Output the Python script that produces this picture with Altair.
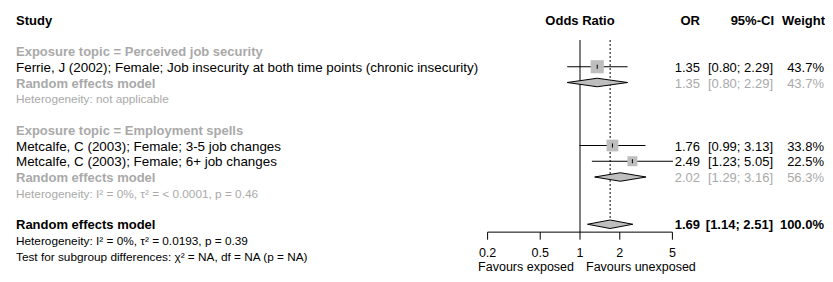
import altair as alt
import pandas as pd

# ---------------- data ----------------
study_labels = [
    "Ferrie, J (2002); Female; Job insecurity at both time points (chronic insecurity)",
    "Metcalfe, C (2003); Female; 3-5 job changes",
    "Metcalfe, C (2003); Female; 6+ job changes",
]
study_or = [1.35, 1.76, 2.49]
study_lo = [0.80, 0.99, 1.23]
study_hi = [2.29, 3.13, 5.05]
study_weight = [43.7, 33.8, 22.5]
study_row = [3, 8, 9]

subgroup_labels = ["Exposure topic = Perceived job security", "Exposure topic = Employment spells"]
subgroup_or = [1.35, 2.02]
subgroup_lo = [0.80, 1.29]
subgroup_hi = [2.29, 3.16]
subgroup_weight = [43.7, 56.3]
subgroup_het = ["Heterogeneity: not applicable",
                "Heterogeneity: I² = 0%, τ² = < 0.0001, p = 0.46"]
subgroup_head_row = [2, 7]
subgroup_model_row = [4, 10]
subgroup_het_row = [5, 11]

overall_or = [1.69]
overall_lo = [1.14]
overall_hi = [2.51]
overall_weight = [100.0]
overall_row = [13]
overall_het = "Heterogeneity: I² = 0%, τ² = 0.0193, p = 0.39"
subgroup_test = "Test for subgroup differences: χ² = NA, df = NA (p = NA)"

axis_ticks = [0.2, 0.5, 1, 2, 5]
axis_tick_labels = ["0.2", "0.5", "1", "2", "5"]
favours_left = "Favours exposed"
favours_right = "Favours unexposed"

# ---------------- styling ----------------
FONT = "Liberation Sans"
GRAY = "#a9a9a9"
FILL = "#bebebe"
FS = 13
FS_REG = 13.4
FS_SMALL = 11.8
FS_AX = 12.5
DY = 1

xs = alt.Scale(type="log", domain=[0.2, 5], range=[479.6, 664.4], nice=False, zero=False)
ys = alt.Scale(domain=[0, 16], range=[11.5, 263.5], nice=False, zero=False)

def X(f):
    return alt.X(f, type="quantitative", scale=xs, axis=None)

def Y(f):
    return alt.Y(f, type="quantitative", scale=ys, axis=None, stack=None)

# ---------------- left column text ----------------
left_rows = [("Study", 0, "header")]
for i in range(2):
    left_rows.append((subgroup_labels[i], subgroup_head_row[i], "subhead"))
    for j, r in enumerate(study_row):
        if subgroup_head_row[i] < r < subgroup_model_row[i]:
            left_rows.append((study_labels[j], r, "study"))
    left_rows.append(("Random effects model", subgroup_model_row[i], "subhead"))
    left_rows.append((subgroup_het[i], subgroup_het_row[i], "subhet"))
left_rows.append(("Random effects model", overall_row[0], "header"))
left_rows.append((overall_het, overall_row[0] + 1, "het"))
left_rows.append((subgroup_test, overall_row[0] + 2, "het"))
left_df = pd.DataFrame(left_rows, columns=["text", "row", "kind"])

styles = {
    "header": dict(fontWeight="bold", color="black", fontSize=FS),
    "subhead": dict(fontWeight="bold", color=GRAY, fontSize=FS),
    "study": dict(fontWeight="normal", color="black", fontSize=FS_REG),
    "subhet": dict(fontWeight="normal", color=GRAY, fontSize=FS_SMALL),
    "het": dict(fontWeight="normal", color="black", fontSize=FS_SMALL),
}

layers = []
for kind, st in styles.items():
    layers.append(
        alt.Chart(left_df).transform_filter(alt.datum.kind == kind)
        .mark_text(font=FONT, align="left", baseline="middle", dy=DY, **st)
        .encode(x=alt.value(8), y=Y("row"), text="text:N")
    )

# ---------------- right columns ----------------
right_rows = []
for j in range(3):
    right_rows.append((study_row[j], study_or[j], study_lo[j], study_hi[j], study_weight[j], "study"))
for i in range(2):
    right_rows.append((subgroup_model_row[i], subgroup_or[i], subgroup_lo[i], subgroup_hi[i],
                       subgroup_weight[i], "sub"))
right_rows.append((overall_row[0], overall_or[0], overall_lo[0], overall_hi[0], overall_weight[0], "overall"))
right_df = pd.DataFrame(right_rows, columns=["row", "est", "lo", "hi", "w", "kind"])
right_df["or_t"] = right_df["est"].map(lambda v: f"{v:.2f}")
right_df["ci_t"] = [f"[{a:.2f}; {b:.2f}]" for a, b in zip(right_df["lo"], right_df["hi"])]
right_df["w_t"] = right_df["w"].map(lambda v: f"{v:.1f}%")

rstyles = {
    "study": dict(fontWeight="normal", color="black"),
    "sub": dict(fontWeight="normal", color=GRAY),
    "overall": dict(fontWeight="bold", color="black"),
}
COL_OR, COL_CI, COL_W = 692, 765, 816
for kind, st in rstyles.items():
    base = alt.Chart(right_df).transform_filter(alt.datum.kind == kind)
    for field, xp in (("or_t", COL_OR), ("ci_t", COL_CI), ("w_t", COL_W)):
        layers.append(
            base.mark_text(font=FONT, align="right", baseline="middle", fontSize=FS, dy=DY, **st)
            .encode(x=alt.value(xp), y=Y("row"), text=f"{field}:N")
        )

hdr_df = pd.DataFrame({"text": ["OR", "95%-CI", "Weight"], "row": [0, 0, 0]})
for t, xp in (("OR", COL_OR), ("95%-CI", COL_CI + 1), ("Weight", COL_W + 1)):
    layers.append(
        alt.Chart(hdr_df).transform_filter(alt.datum.text == t)
        .mark_text(font=FONT, align="right", baseline="middle", fontSize=FS, fontWeight="bold",
                   color="black", dy=DY)
        .encode(x=alt.value(xp), y=Y("row"), text="text:N")
    )
layers.append(
    alt.Chart(pd.DataFrame({"text": ["Odds Ratio"], "row": [0], "x": [1]}))
    .mark_text(font=FONT, align="center", baseline="middle", fontSize=FS, fontWeight="bold",
               color="black", dy=DY)
    .encode(x=X("x"), y=Y("row"), text="text:N")
)

# ---------------- forest graphics ----------------
ref_df = pd.DataFrame({"x": [1], "top": [1.3], "bot": [13.5]})
layers.append(alt.Chart(ref_df).mark_rule(color="black", strokeWidth=1)
              .encode(x=X("x"), y=Y("top"), y2="bot"))
dot_df = pd.DataFrame({"x": overall_or, "top": [1.3], "bot": [overall_row[0] - 0.27]})
layers.append(alt.Chart(dot_df).mark_rule(color="black", strokeWidth=1, strokeDash=[2, 2])
              .encode(x=X("x"), y=Y("top"), y2="bot"))

st_df = pd.DataFrame({"row": study_row, "est": study_or, "lo": study_lo, "hi": study_hi, "w": study_weight})
layers.append(alt.Chart(st_df).mark_rule(color="black", strokeWidth=1)
              .encode(x=X("lo"), x2="hi", y=Y("row")))
layers.append(alt.Chart(st_df).mark_square(color=FILL, opacity=1, strokeWidth=0)
              .encode(x=X("est"), y=Y("row"),
                      size=alt.Size("w:Q", scale=alt.Scale(domain=[22.5, 43.7], range=[100, 172]), legend=None)))
layers.append(alt.Chart(st_df).transform_calculate(t="datum.row - 0.13", b="datum.row + 0.13")
              .mark_rule(color="black", strokeWidth=1)
              .encode(x=X("est"), y=Y("t"), y2="b"))

# diamonds (one layer per pooled estimate)
dia_specs = [(subgroup_lo[i], subgroup_or[i], subgroup_hi[i], subgroup_model_row[i]) for i in range(2)]
dia_specs.append((overall_lo[0], overall_or[0], overall_hi[0], overall_row[0]))
for lo, est, hi, row in dia_specs:
    ddf = pd.DataFrame({"x": [lo, est, hi], "row": [row] * 3, "f": [0, 1, 0]})
    layers.append(
        alt.Chart(ddf)
        .transform_calculate(t="datum.row - 0.27 * datum.f", b="datum.row + 0.27 * datum.f")
        .mark_area(color=FILL, opacity=1, stroke="black", strokeWidth=1, orient="vertical",
                   interpolate="linear")
        .encode(x=X("x"), y=Y("t"), y2="b")
    )

# axis
ax_df = pd.DataFrame({"lo": [axis_ticks[0]], "hi": [axis_ticks[-1]], "row": [13.5]})
layers.append(alt.Chart(ax_df).mark_rule(color="black", strokeWidth=1)
              .encode(x=X("lo"), x2="hi", y=Y("row")))
tk_df = pd.DataFrame({"x": axis_ticks, "lab": axis_tick_labels})
layers.append(alt.Chart(tk_df).transform_calculate(t="13.5", b="13.98")
              .mark_rule(color="black", strokeWidth=1)
              .encode(x=X("x"), y=Y("t"), y2="b"))
layers.append(alt.Chart(tk_df).transform_calculate(r="15.1")
              .mark_text(font=FONT, fontSize=FS_AX, align="center", baseline="alphabetic", color="black")
              .encode(x=X("x"), y=Y("r"), text="lab:N"))
fav_df = pd.DataFrame({"text": [favours_left, favours_right], "x": [1, 1], "row": [16.16, 16.16]})
layers.append(alt.Chart(fav_df).transform_filter(alt.datum.text == favours_left)
              .mark_text(font=FONT, fontSize=FS_AX, align="right", baseline="bottom", color="black", dx=-6)
              .encode(x=X("x"), y=Y("row"), text="text:N"))
layers.append(alt.Chart(fav_df).transform_filter(alt.datum.text == favours_right)
              .mark_text(font=FONT, fontSize=FS_AX, align="left", baseline="bottom", color="black", dx=6)
              .encode(x=X("x"), y=Y("row"), text="text:N"))

chart = (alt.layer(*layers)
         .properties(width=817, height=266, padding=0, autosize="none", background="white")
         .configure_view(stroke=None))

chart.save("out.html", embed_options={"renderer": "svg", "actions": False})
